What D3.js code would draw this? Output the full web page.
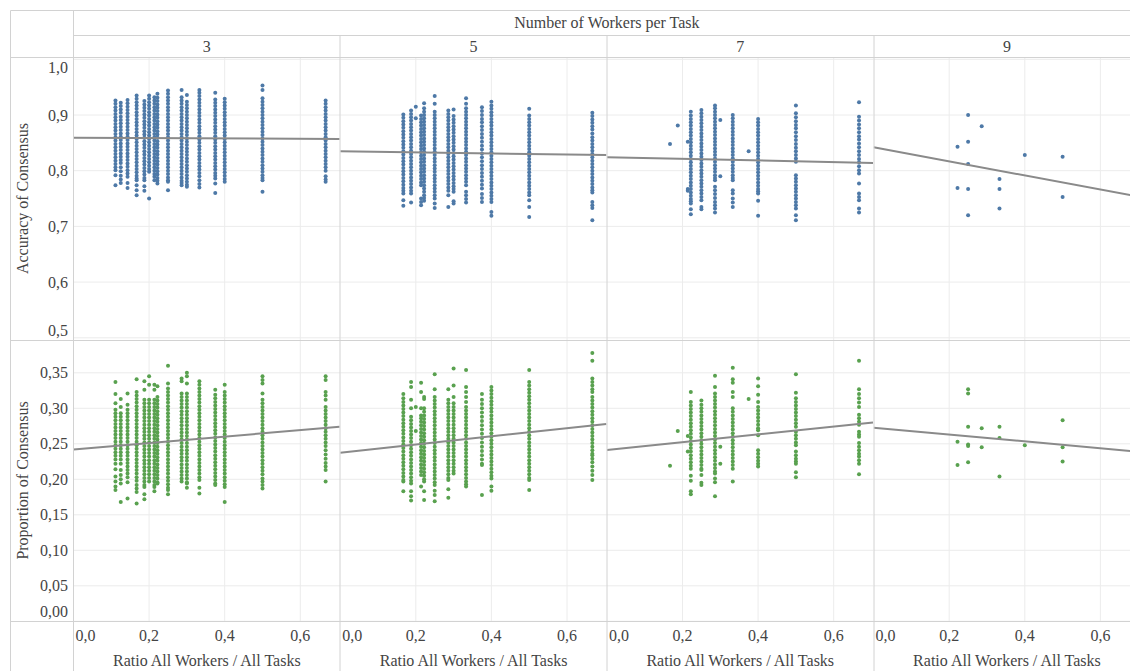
<!DOCTYPE html>
<html><head><meta charset="utf-8">
<script src="https://cdn.jsdelivr.net/npm/d3@7"></script>
<style>body{margin:0;background:#fff}svg{display:block}</style>
</head><body><svg id="c" width="1130" height="671" font-family="Liberation Serif, DejaVu Serif, serif"></svg>
<script>
const workers = ["3","5","7","9"];
const xTicks = [0, 0.2, 0.4, 0.6];
const accTicks = [0.5, 0.6, 0.7, 0.8, 0.9, 1.0];
const propTicks = [0, 0.05, 0.10, 0.15, 0.20, 0.25, 0.30, 0.35];
const rowTitles = ["Accuracy of Consensus", "Proportion of Consensus"];
const colTitle = "Number of Workers per Task";
const xTitle = "Ratio All Workers / All Tasks";

// Accuracy of consensus: [ratio, values in thousandths]
const acc3 = [
 [0.111,[926,920,914,908,902,896,890,884,878,872,866,860,854,848,842,836,830,824,818,812,806,801,792,774]],
 [0.125,[922,916,910,904,897,891,885,879,873,867,861,855,849,843,837,831,825,819,814,806,799,791,784,778]],
 [0.143,[927,921,915,909,903,897,891,885,879,873,867,861,855,849,843,837,831,825,819,813,807,801,795,789,778,769]],
 [0.167,[935,929,923,917,911,905,899,893,887,881,875,869,863,857,851,845,839,833,827,821,815,809,803,797,791,786,783,774,765,756]],
 [0.1875,[925,919,913,907,901,895,889,883,877,871,865,859,853,847,841,835,829,823,817,811,805,799,793,787,783,772,764]],
 [0.2,[935,929,923,917,911,905,899,893,887,881,875,869,863,857,851,845,839,833,827,821,815,809,803,798,750]],
 [0.214,[932,926,920,914,908,902,896,890,884,878,872,866,860,854,848,842,836,830,824,818,812,806,800,794,789,783]],
 [0.222,[938,931,925,919,913,907,901,895,889,883,877,871,865,859,853,847,841,835,829,823,817,811,805,799,793,787,782,777]],
 [0.25,[944,938,932,926,920,914,908,902,896,890,884,878,872,866,860,854,848,842,836,830,824,818,812,806,800,794,788,783,780,765]],
 [0.286,[945,932,926,920,914,908,902,896,890,884,878,872,866,860,854,848,842,836,830,824,818,812,806,800,794,788,782,778,774]],
 [0.3,[936,924,918,912,906,900,894,888,882,876,870,864,858,852,846,840,834,828,822,816,810,804,798,792,786,780,775,771]],
 [0.333,[945,940,934,928,922,916,910,904,898,892,886,880,874,868,862,856,850,844,838,832,826,820,814,808,802,796,790,783,776,770]],
 [0.375,[940,928,922,916,910,904,898,892,886,880,874,868,862,856,850,844,838,832,826,820,814,808,802,796,791,786,777,760]],
 [0.4,[929,923,917,911,905,899,893,887,881,875,869,863,857,851,845,839,833,827,821,815,809,803,797,791,785,780]],
 [0.5,[953,945,930,924,918,912,906,900,894,888,882,876,870,864,858,852,846,840,834,828,822,816,810,804,798,792,787,783,762]],
 [0.667,[926,920,914,908,902,896,890,884,878,872,866,860,854,848,842,836,830,824,818,812,806,800,790,784,780]]
];
const acc5 = [
 [0.167,[901,895,889,883,877,871,865,859,853,847,841,835,829,823,817,811,805,799,793,787,781,775,769,764,759,747,737]],
 [0.1875,[908,902,896,890,884,878,872,866,860,854,848,842,836,830,824,818,812,806,800,794,788,782,776,770,764,759,743]],
 [0.2,[915,894]],
 [0.214,[899,893,887,881,875,869,863,857,851,845,839,833,827,821,815,809,803,797,791,785,779,774,750,744,738]],
 [0.222,[921,912,906,900,894,888,882,876,870,864,858,852,846,840,834,828,822,816,810,804,798,792,786,780,774,768,762,756,751,746]],
 [0.25,[934,920,906,900,894,888,882,876,870,864,858,852,846,840,834,828,822,816,810,804,798,792,786,780,774,768,762,756,750,741,733]],
 [0.286,[908,902,896,890,884,878,872,866,860,854,848,842,836,830,824,818,812,806,800,794,788,782,776,770,764,756,735]],
 [0.3,[910,898,892,886,880,874,868,862,856,850,844,838,832,826,820,814,808,802,796,790,784,778,772,767,762,745,741]],
 [0.333,[930,920,912,906,900,894,888,882,876,870,864,858,852,846,840,834,828,822,816,810,804,798,792,786,780,774,762,756,749,743]],
 [0.375,[914,907,900,893,887,880,873,866,859,852,845,838,831,824,817,810,803,796,789,782,775,768,758,751,744]],
 [0.4,[924,917,911,905,899,893,887,881,875,869,863,857,851,845,839,833,827,821,815,809,803,797,791,785,779,773,767,761,755,749,744,726,719]],
 [0.5,[911,899,893,887,881,875,869,863,857,851,845,839,833,827,821,815,809,803,797,791,785,779,773,767,761,756,747,735,717]],
 [0.667,[904,898,892,886,880,874,867,860,854,848,842,836,830,824,818,812,806,800,794,788,782,776,770,765,761,744,738,733,711]]
];
const acc7 = [
 [0.167,[848]],
 [0.1875,[881]],
 [0.214,[852,767,764]],
 [0.222,[906,899,893,887,881,875,869,863,857,851,845,839,833,827,821,815,809,803,797,791,785,779,773,767,761,755,749,745,741,731,722]],
 [0.25,[909,903,897,891,885,879,873,867,861,855,849,843,837,831,825,819,813,807,801,795,789,783,777,771,765,759,753,747,735,731]],
 [0.286,[917,912,906,900,894,888,882,876,870,864,858,852,846,840,834,828,822,816,810,804,798,792,787,783,771,765,758,751,744,738,732,725]],
 [0.3,[891,790]],
 [0.333,[900,894,888,882,876,870,864,858,852,846,840,834,828,822,816,810,804,798,792,787,783,765,759,750,743,735]],
 [0.375,[835]],
 [0.4,[893,887,881,875,869,863,857,851,845,839,833,827,821,815,809,803,797,791,785,779,773,767,763,759,746,719]],
 [0.5,[917,903,896,889,882,876,869,862,855,848,841,835,828,822,816,792,786,780,774,768,762,756,750,744,738,732,720,711]],
 [0.667,[923,897,890,883,876,869,862,856,849,842,835,828,821,815,808,801,795,777,759,753,747,732,725]]
];
const acc9 = [
 [0.222,[843,769]],
 [0.25,[900,852,812,767,720]],
 [0.286,[880]],
 [0.333,[785,767,732]],
 [0.4,[828]],
 [0.5,[825,753]]
];

// Proportion of consensus: [ratio, values in thousandths]
const prop3 = [
 [0.111,[337,320,307,298,293,288,283,278,273,268,263,258,253,248,243,238,233,228,222,214,204,197,190,185]],
 [0.125,[313,302,293,288,283,278,273,268,263,258,253,248,243,238,233,228,222,213,206,200,194,168]],
 [0.143,[321,305,298,293,288,283,278,273,268,263,258,253,248,243,238,233,228,223,218,213,208,203,196,173]],
 [0.167,[341,323,318,313,308,303,298,293,288,283,278,273,268,263,258,253,248,243,238,233,228,223,218,213,208,203,198,192,187,182,166]],
 [0.1875,[338,326,312,307,302,297,292,287,282,277,272,267,262,257,252,247,242,237,232,227,222,217,212,207,202,197,192,189,179,172]],
 [0.2,[345,333,312,307,302,297,292,287,282,277,272,267,262,257,252,247,242,237,232,227,222,217,212,207,202,197]],
 [0.214,[333,326,312,307,302,297,292,287,282,277,272,267,262,257,252,247,242,237,232,227,222,217,212,207,202,197,192,189,183]],
 [0.222,[331,316,311,306,301,296,291,286,281,276,271,266,261,256,251,246,241,236,231,226,221,216,211,206,201,196,194]],
 [0.25,[360,335,328,323,318,313,308,303,298,293,288,283,278,273,268,263,258,253,248,243,238,233,228,223,218,213,208,203,198,193,188,185,179]],
 [0.286,[342,338,321,316,311,306,301,296,291,286,281,276,271,266,261,256,251,246,241,236,231,226,221,216,211,206,201,197]],
 [0.3,[350,345,335,321,316,311,306,301,296,291,286,281,276,271,266,261,256,251,246,241,236,231,226,221,216,211,206,201,196,194,188]],
 [0.333,[338,333,328,323,318,313,308,303,298,293,288,283,278,273,268,263,258,253,248,243,238,233,228,223,218,213,208,203,199,188,180]],
 [0.375,[326,319,314,309,304,299,294,289,284,279,274,269,264,259,254,249,244,239,234,229,224,219,214,209,204,199,194,192]],
 [0.4,[333,323,318,313,308,303,298,293,288,283,278,273,268,263,258,253,248,243,238,233,228,223,218,213,208,203,198,193,189,168]],
 [0.5,[345,340,335,321,312,307,302,297,292,287,282,277,272,267,262,257,252,247,242,237,232,227,222,217,212,207,201,197,192,187]],
 [0.667,[345,340,323,318,312,302,297,292,287,282,277,272,267,262,257,252,247,241,235,229,223,218,213,197]]
];
const prop5 = [
 [0.167,[320,314,309,304,299,294,289,284,279,274,269,264,259,254,249,244,239,234,229,224,219,214,209,204,199,197,183]],
 [0.1875,[337,330,312,300,288,283,278,273,268,263,258,253,248,243,238,233,228,223,218,213,208,203,198,194,183,176,170]],
 [0.2,[302,268]],
 [0.214,[336,323,300,290,286,281,276,271,266,261,256,251,246,241,236,231,226,221,216,211,206,190]],
 [0.222,[316,313,300,295,290,285,280,275,270,265,260,255,250,245,240,235,230,225,220,215,210,205,200,197,183,171]],
 [0.25,[348,327,316,311,306,301,296,291,286,281,276,271,266,261,256,251,246,241,236,231,226,221,216,211,206,201,196,192,184,178,169]],
 [0.286,[327,312,307,302,297,292,287,282,277,272,267,262,257,252,247,242,237,232,227,222,217,212,207,202,199,186,174]],
 [0.3,[356,332,316,307,302,297,292,287,282,277,272,267,262,257,252,247,242,237,232,227,222,217,212,208]],
 [0.333,[354,330,323,316,309,302,297,292,287,282,277,272,267,262,257,252,247,242,237,232,227,222,217,212,207,202,197,193,190]],
 [0.375,[320,312,306,300,294,288,282,276,270,264,258,252,246,240,234,228,222,220,178]],
 [0.4,[330,325,320,315,310,305,300,295,290,285,280,275,270,265,260,255,250,245,240,235,230,225,220,215,210,205,201,190,184]],
 [0.5,[354,337,332,327,322,317,312,307,302,297,292,287,282,277,272,267,262,257,252,247,242,237,232,227,222,217,212,207,202,199,185]],
 [0.667,[378,367,342,337,332,327,323,316,311,306,301,296,291,286,281,276,271,266,261,256,251,246,241,236,234,229,224,218,212,206,199]]
];
const prop7 = [
 [0.167,[219]],
 [0.1875,[268]],
 [0.214,[261,239]],
 [0.222,[323,309,304,299,294,289,284,279,274,269,264,259,254,249,244,239,234,229,224,219,215,205,198,183,179]],
 [0.25,[311,305,300,295,290,285,280,275,270,265,260,255,250,245,240,235,230,225,220,215,213,206,195,192]],
 [0.286,[346,330,321,316,311,306,301,296,291,286,281,276,271,266,261,256,251,246,241,236,231,226,221,216,211,208,201,196,176]],
 [0.3,[246,222]],
 [0.333,[357,341,336,323,316,300,295,290,285,280,275,270,265,260,255,250,245,240,235,230,225,220,215,197]],
 [0.375,[313]],
 [0.4,[342,331,319,309,302,297,292,287,282,277,272,269,262,241,236,231,226,222,218]],
 [0.5,[348,322,314,309,304,299,294,289,284,279,274,267,262,257,252,248,239,234,229,225,222,210,203]],
 [0.667,[367,327,320,314,308,302,291,286,281,277,267,263,260,251,246,241,236,232,227,222,207]]
];
const prop9 = [
 [0.222,[253,220]],
 [0.25,[327,321,274,249,247,224]],
 [0.286,[272,245]],
 [0.333,[274,258,204]],
 [0.4,[248]],
 [0.5,[283,245,225]]
];

// trend lines: value at ratio 0 and at ratio 0.704
const trendEnds = [0, 0.704];
const accTrend = [[0.859,0.857],[0.835,0.828],[0.824,0.814],[0.842,0.753]];
const propTrend = [[0.242,0.274],[0.2375,0.278],[0.2413,0.280],[0.2727,0.2387]];

const accData = [acc3, acc5, acc7, acc9];
const propData = [prop3, prop5, prop7, prop9];

const svg = d3.select("#c");
const W = 1130, H = 671;
const L0 = 73.5, colW = 266.7, frameL = 10, frameT = 10;
const hdr1 = 35, hdr2 = 57, midY = 340, botY = 621;
const border = "#d2d2d2", grid = "#ececec", txt = "#444444";
const blue = "#4e79a7", green = "#59a14f", trendCol = "#8a8a8a";
const FS = 16;
const fmt = d3.formatLocale({decimal: ",", thousands: ".", grouping: [3], currency: ["", ""]});
const f1 = fmt.format(".1f"), f2 = fmt.format(".2f");

const yAcc = d3.scaleLinear().domain([0.5, 1.0]).range([337.8, 59.3]);
const yProp = d3.scaleLinear().domain([0, 0.35]).range([621.3, 372.8]);

const rows = [
  {y: yAcc, top: hdr2, bot: midY, data: accData, trend: accTrend, ticks: accTicks, f: f1, color: blue},
  {y: yProp, top: midY, bot: botY, data: propData, trend: propTrend, ticks: propTicks, f: f2, color: green}
];

const defs = svg.append("defs");
const gGrid = svg.append("g"), gMarks = svg.append("g"), gLines = svg.append("g"), gText = svg.append("g");

workers.forEach((w, ci) => {
  const left = L0 + ci * colW;
  const x = d3.scaleLinear().domain([0, 0.2]).range([left, left + 75.6]);
  rows.forEach((r, ri) => {
    const id = "clip" + ci + "_" + ri;
    defs.append("clipPath").attr("id", id).append("rect")
      .attr("x", left).attr("y", r.top).attr("width", colW).attr("height", r.bot - r.top);
    const gg = gGrid.append("g").attr("clip-path", `url(#${id})`);
    gg.selectAll(".h").data(r.ticks).join("line")
      .attr("x1", left).attr("x2", left + colW).attr("y1", d => r.y(d)).attr("y2", d => r.y(d))
      .attr("stroke", grid).attr("stroke-width", 1);
    gg.selectAll(".v").data(xTicks.slice(1)).join("line")
      .attr("x1", d => x(d)).attr("x2", d => x(d)).attr("y1", r.top).attr("y2", r.bot)
      .attr("stroke", grid).attr("stroke-width", 1);
    const pts = [];
    r.data[ci].forEach(([rx, vals]) => vals.forEach(v => pts.push([rx, v / 1000])));
    gMarks.append("g").attr("clip-path", `url(#${id})`)
      .selectAll("circle").data(pts).join("circle")
      .attr("cx", d => x(d[0])).attr("cy", d => r.y(d[1])).attr("r", 2)
      .attr("fill", r.color);
    const t = r.trend[ci];
    gLines.append("g").attr("clip-path", `url(#${id})`).append("path")
      .datum([[trendEnds[0], t[0]], [trendEnds[1], t[1]]])
      .attr("d", d3.line().x(d => x(d[0])).y(d => r.y(d[1])))
      .attr("stroke", trendCol).attr("stroke-width", 2).attr("fill", "none");
  });
  gText.append("text").attr("x", left + colW / 2).attr("y", (hdr1 + hdr2) / 2).attr("dy", "0.35em")
    .attr("text-anchor", "middle").attr("font-size", FS).attr("fill", txt).text(w);
  gText.selectAll(null).data(xTicks).join("text")
    .attr("x", d => d === 0 ? x(d) + 2 : x(d))
    .attr("text-anchor", d => d === 0 ? "start" : "middle")
    .attr("y", 635).attr("dy", "0.35em").attr("font-size", FS).attr("fill", txt)
    .text(d => f1(d));
  gText.append("text").attr("x", left + colW / 2).attr("y", 660).attr("dy", "0.35em")
    .attr("text-anchor", "middle").attr("font-size", FS).attr("fill", txt).text(xTitle);
});

rows.forEach((r, ri) => {
  gText.selectAll(null).data(r.ticks).join("text")
    .attr("x", 68).attr("y", d => Math.max(r.top + 10, Math.min(r.bot - 10, r.y(d))))
    .attr("dy", "0.35em").attr("text-anchor", "end").attr("font-size", FS).attr("fill", txt)
    .text(d => r.f(d));
  const cy = (r.top + r.bot) / 2;
  gText.append("text").attr("transform", `translate(22,${cy}) rotate(-90)`)
    .attr("dy", "0.35em").attr("text-anchor", "middle").attr("font-size", FS).attr("fill", txt)
    .text(rowTitles[ri]);
});

const totalR = L0 + 4 * colW;
gText.append("text").attr("x", (L0 + totalR) / 2).attr("y", (frameT + hdr1) / 2).attr("dy", "0.35em")
  .attr("text-anchor", "middle").attr("font-size", FS).attr("fill", txt).text(colTitle);

const lines = [
  [frameL, frameT, W + 20, frameT],
  [frameL, frameT, frameL, H],
  [73, frameT, 73, H],
  [73, hdr1, W + 20, hdr1],
  [frameL, hdr2, W + 20, hdr2],
  [frameL, midY, W + 20, midY],
  [frameL, botY, W + 20, botY]
];
for (let ci = 1; ci < 4; ci++) { const xx = Math.round(L0 + ci * colW) - 0.5; lines.push([xx, hdr1, xx, H]); }
svg.append("g").selectAll("line").data(lines).join("line")
  .attr("x1", d => d[0] + 0.5).attr("y1", d => d[1] + 0.5).attr("x2", d => d[2] + 0.5).attr("y2", d => d[3] + 0.5)
  .attr("stroke", border).attr("stroke-width", 1);
</script></body></html>
